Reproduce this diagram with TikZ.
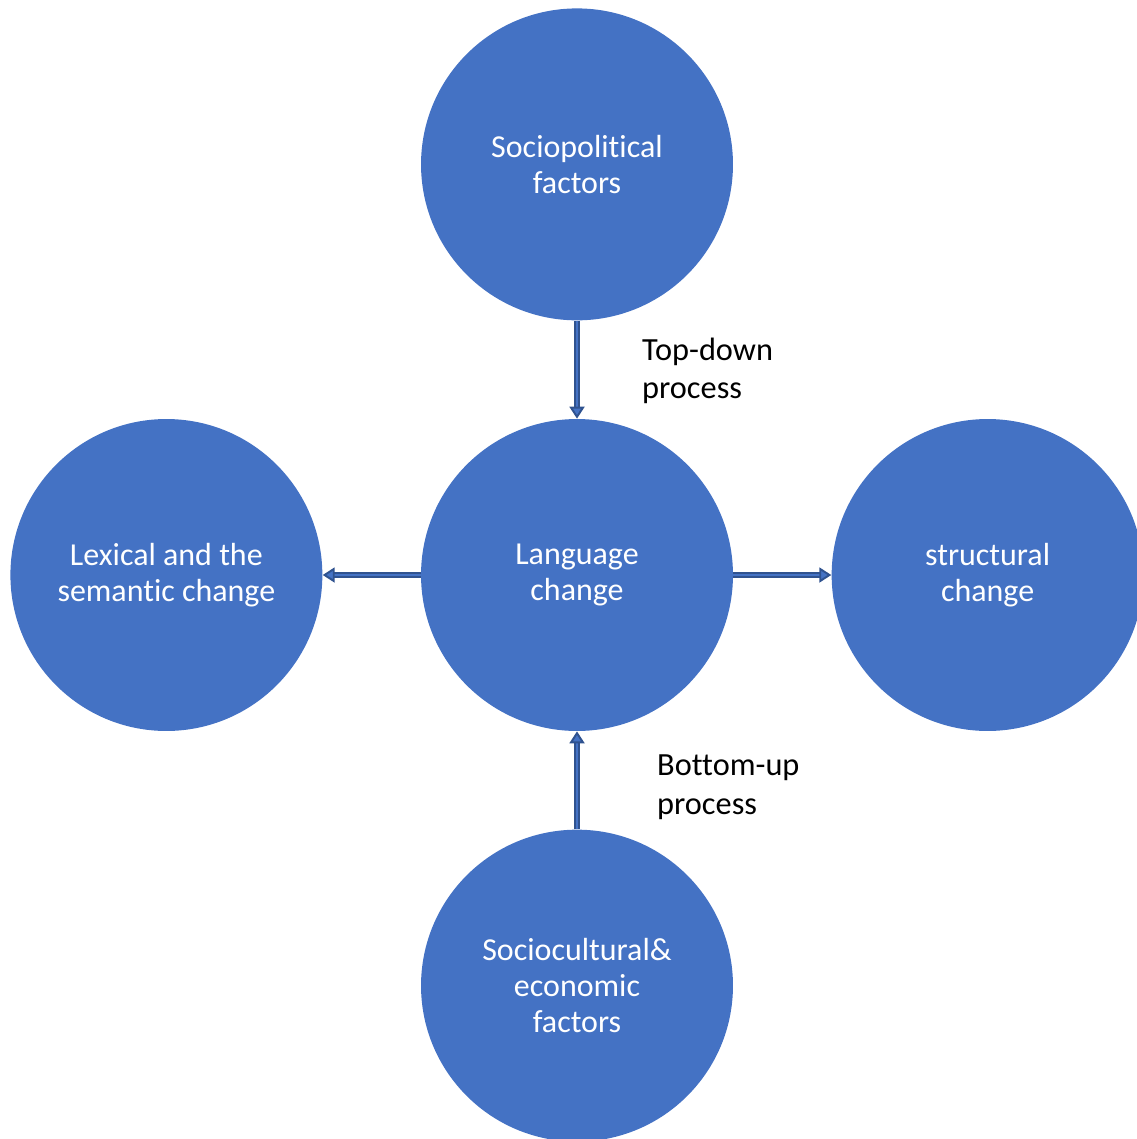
\documentclass[tikz,border=0pt]{standalone}
\usepackage{fontspec}
\setmainfont{Carlito}[Ligatures={NoCommon,NoRare,NoContextual},RawFeature={-liga;-clig;-dlig;-calt}]
\usepackage{xcolor}
\usetikzlibrary{arrows.meta,positioning}
\definecolor{circblue}{HTML}{4472C4}
\definecolor{edgeblue}{HTML}{2F528F}

\begin{document}
\begin{tikzpicture}[
    x=0.02cm, y=-0.02cm,
    node distance=1.96cm and 1.96cm,
    bubble/.style={circle, fill=circblue, minimum size=6.24cm, inner sep=0pt, align=center, text=white, font=\fontsize{18.2}{20.5}\selectfont},
    note/.style={align=left, anchor=west, font=\fontsize{18.4}{22}\selectfont},
    blockarrow/.style={draw=edgeblue, line width=1.1pt, double=circblue, double distance=0.05cm, -{Triangle[length=0.24cm, width=0.3cm, fill=circblue]}},
]
    \useasboundingbox (0,0) rectangle (1136,1139);

    % Circles
    \node [bubble] (lang) at (577,575) {Language\\change};
    \node [bubble, above=of lang] (socpol) {Sociopolitical\\factors};
    \node [bubble, below=of lang] (soccult) {Sociocultural\&\\economic\\factors};
    \node [bubble, left=of lang] (lexical) {Lexical and the\\semantic change};
    \node [bubble, right=of lang] (struct) {structural\\change};

    % Labels
    \node [note] (topdown) at (636,371) {Top-down\\process};
    \node [note] (bottomup) at (651,787) {Bottom-up\\process};

    % Arrows
    \draw [blockarrow] (socpol) -- (lang);
    \draw [blockarrow] (soccult) -- (lang);
    \draw [blockarrow] (lang) -- (lexical);
    \draw [blockarrow] (lang) -- (struct);

\end{tikzpicture}
\end{document}
